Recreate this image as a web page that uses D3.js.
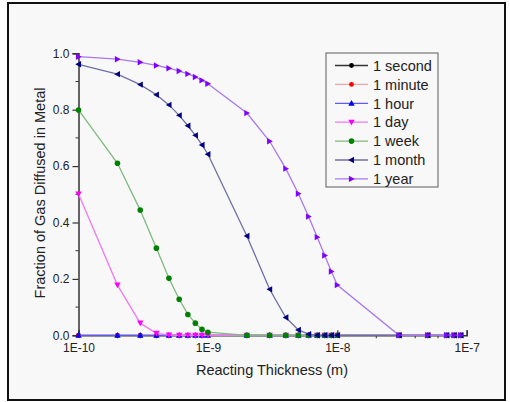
<!DOCTYPE html>
<html><head><meta charset="utf-8">
<script src="https://cdn.jsdelivr.net/npm/d3@7"></script>
<style>html,body{margin:0;padding:0;background:#fff;}svg{display:block;font-family:Arial,"Liberation Sans",sans-serif;}</style>
</head><body>
<svg id="c" width="510" height="402"></svg>
<script>
const thickness = [1e-10,2e-10,3e-10,4e-10,5e-10,6e-10,7e-10,8e-10,9e-10,
  1e-9,2e-9,3e-9,4e-9,5e-9,6e-9,7e-9,8e-9,9e-9,1e-8,3e-8,5e-8,7e-8,8e-8,9e-8];
const seriesNames = ["1 second","1 minute","1 hour","1 day","1 week","1 month","1 year"];
const zeros = thickness.map(() => 0);
const secondVals = zeros.slice();
const minuteVals = zeros.slice();
const hourVals = zeros.slice();
const dayVals = [0.501,0.178,0.043,0.007,0.001,0,0,0,0, 0,0,0,0,0,0,0,0,0,0,0,0,0,0,0];
const weekVals = [0.799,0.610,0.444,0.309,0.202,0.128,0.074,0.043,0.021, 0.011,0.0,0,0,0,0,0,0,0,0,0,0,0,0,0];
const monthVals = [0.961,0.926,0.889,0.853,0.817,0.780,0.743,0.709,0.675, 0.642,0.352,0.163,0.063,0.019,0.004,0,0,0,0,0,0,0,0,0];
const yearVals = [0.988,0.979,0.968,0.957,0.947,0.937,0.927,0.916,0.904, 0.892,0.788,0.688,0.591,0.502,0.421,0.348,0.283,0.226,0.178,0,0,0,0,0];
const yTicks = [0,0.2,0.4,0.6,0.8,1.0];
const xTicks = [1e-10,1e-9,1e-8,1e-7];
const xTickLabels = ["1E-10","1E-9","1E-8","1E-7"];

const series = [
  {name:seriesNames[0], vals:secondVals, mark:"#000000", line:"#333333", sym:"circle"},
  {name:seriesNames[1], vals:minuteVals, mark:"#ff0000", line:"#f3a5a5", sym:"circle"},
  {name:seriesNames[2], vals:hourVals, mark:"#0000ff", line:"#5a5aff", sym:"up"},
  {name:seriesNames[3], vals:dayVals, mark:"#ff00ff", line:"#f07af0", sym:"down"},
  {name:seriesNames[4], vals:weekVals, mark:"#008000", line:"#7dbb7d", sym:"diamond"},
  {name:seriesNames[5], vals:monthVals, mark:"#000080", line:"#6f6fa8", sym:"left"},
  {name:seriesNames[6], vals:yearVals, mark:"#8000ff", line:"#a878f0", sym:"right"}
];

const svg = d3.select("#c");
svg.append("rect").attr("x",8).attr("y",3).attr("width",497).attr("height",397)
  .attr("fill","#f8f8f8").attr("stroke","#111").attr("stroke-width",2);

const x = d3.scaleLog().domain([1e-10,1e-7]).range([78.5,466.7]);
const y = d3.scaleLinear().domain([0,1]).range([335.3,53.3]);

const axisColor = "#333";
const minorX = [];
[1e-10,1e-9,1e-8].forEach(d => { for (let k=2;k<=9;k++) minorX.push(d*k); });
const gx = svg.append("g");
gx.selectAll(".mx").data(minorX).join("line")
  .attr("x1",d=>x(d)).attr("x2",d=>x(d)).attr("y1",y(0)).attr("y2",y(0)+3)
  .attr("stroke",axisColor).attr("stroke-width",1);
const xAxis = d3.axisBottom(x).tickValues(xTicks).tickFormat((d,i)=>xTickLabels[i]).tickSize(-5).tickPadding(6);
const gxa = svg.append("g").attr("transform",`translate(0,${y(0)})`).call(xAxis);
gxa.select(".domain").attr("stroke",axisColor).attr("stroke-width",1.5);
gxa.selectAll(".tick line").attr("stroke",axisColor).attr("stroke-width",1.2);
gxa.selectAll(".tick text").attr("font-size","12px").attr("fill","#222").attr("dy","0.9em");

const minorY = [0.1,0.3,0.5,0.7,0.9];
svg.append("g").selectAll("line").data(minorY).join("line")
  .attr("x1",x(1e-10)-3).attr("x2",x(1e-10)).attr("y1",d=>y(d)).attr("y2",d=>y(d))
  .attr("stroke",axisColor).attr("stroke-width",1);
const yAxis = d3.axisLeft(y).tickValues(yTicks).tickFormat(d3.format(".1f")).tickSize(6).tickPadding(3);
const gya = svg.append("g").attr("transform",`translate(${x(1e-10)},0)`).call(yAxis);
gya.select(".domain").attr("stroke",axisColor).attr("stroke-width",1.5);
gya.selectAll(".tick line").attr("stroke",axisColor).attr("stroke-width",1.2);
gya.selectAll(".tick text").attr("font-size","12px").attr("fill","#222");

svg.append("text").attr("x",272).attr("y",375).attr("text-anchor","middle")
  .attr("font-size","14.5px").attr("fill","#222").text("Reacting Thickness (m)");
svg.append("text").attr("transform","translate(45,193) rotate(-90)").attr("text-anchor","middle")
  .attr("font-size","14.5px").attr("fill","#222").text("Fraction of Gas Diffused in Metal");

function sym(g, type, color, cx, cy) {
  const s = 3.2;
  let p;
  if (type === "circle") { g.append("circle").attr("cx",cx).attr("cy",cy).attr("r",2.4).attr("fill",color); return; }
  if (type === "diamond") { g.append("circle").attr("cx",cx).attr("cy",cy).attr("r",2.8).attr("fill",color); return; }
  if (type === "up") p = [[cx,cy-s],[cx+s,cy+s*0.8],[cx-s,cy+s*0.8]];
  if (type === "down") p = [[cx,cy+s],[cx+s,cy-s*0.8],[cx-s,cy-s*0.8]];
  if (type === "left") p = [[cx-s,cy],[cx+s*0.8,cy-s],[cx+s*0.8,cy+s]];
  if (type === "right") p = [[cx+s,cy],[cx-s*0.8,cy-s],[cx-s*0.8,cy+s]];
  g.append("path").attr("d","M"+p.map(q=>q.join(",")).join("L")+"Z").attr("fill",color);
}

const line = d3.line().x(d=>x(d[0])).y(d=>y(d[1]));
series.forEach(s => {
  const g = svg.append("g");
  const pts = thickness.map((t,i)=>[t,s.vals[i]]);
  g.append("path").attr("d",line(pts)).attr("fill","none").attr("stroke",s.line).attr("stroke-width",1.3);
  pts.forEach(p => sym(g, s.sym, s.mark, x(p[0]), y(p[1])));
});

const lg = svg.append("g");
lg.append("rect").attr("x",326).attr("y",53).attr("width",112).attr("height",134)
  .attr("fill","#f8f8f8").attr("stroke","#777").attr("stroke-width",1.2);
series.forEach((s,i) => {
  const yy = 65.5 + i*18.9;
  lg.append("line").attr("x1",335).attr("x2",368).attr("y1",yy).attr("y2",yy).attr("stroke",s.line).attr("stroke-width",1.3);
  sym(lg, s.sym, s.mark, 351.5, yy);
  lg.append("text").attr("x",373).attr("y",yy).attr("dy","0.36em").attr("font-size","14.5px").attr("fill","#222").text(s.name);
});
</script>
</body></html>
